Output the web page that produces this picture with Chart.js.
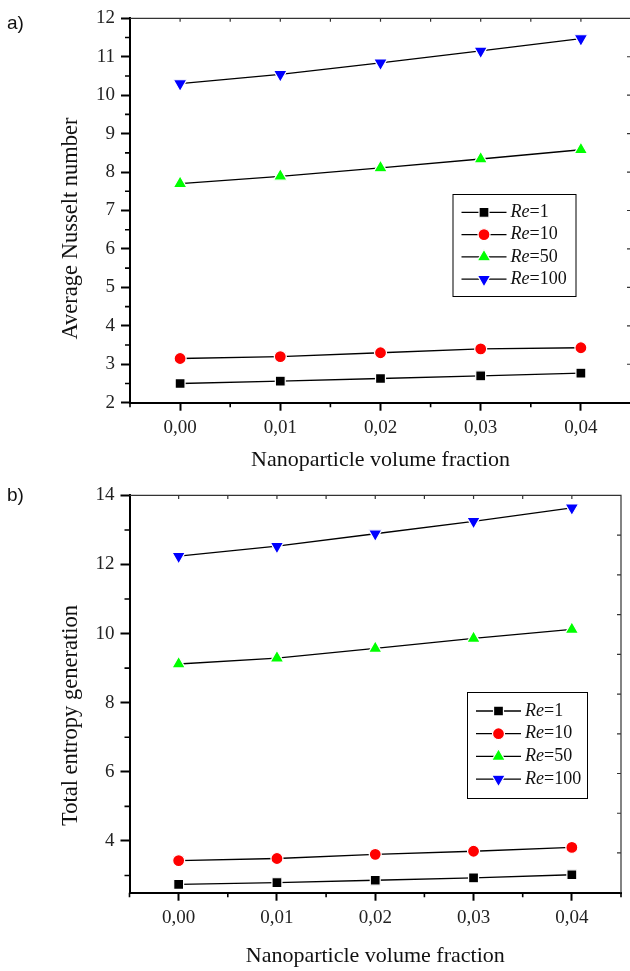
<!DOCTYPE html>
<html>
<head>
<meta charset="utf-8">
<title>Nusselt number and entropy generation vs volume fraction</title>
<script src="https://cdn.jsdelivr.net/npm/chart.js@4.4.1/dist/chart.umd.min.js"></script>
<style>
  html, body { margin: 0; padding: 0; background: #fff; overflow: hidden; width: 630px; height: 971px; }
  .panel { position: absolute; left: 0; }
</style>
</head>
<body>
<div class="panel" style="top:0"><canvas id="nusseltChart" width="640" height="478"></canvas></div>
<div class="panel" style="top:478px"><canvas id="entropyChart" width="630" height="493"></canvas></div>
<script>
// ---------------- Data ----------------
const fractions = [0, 0.01, 0.02, 0.03, 0.04];
const reynolds = ['1', '10', '50', '100'];

const nusseltRe1 = [2.50, 2.56, 2.63, 2.70, 2.77];
const nusseltRe10 = [3.15, 3.20, 3.30, 3.40, 3.43];
const nusseltRe50 = [7.70, 7.89, 8.11, 8.34, 8.58];
const nusseltRe100 = [10.30, 10.54, 10.84, 11.15, 11.47];

const entropyRe1 = [2.74, 2.79, 2.86, 2.93, 3.02];
const entropyRe10 = [3.43, 3.49, 3.61, 3.70, 3.81];
const entropyRe50 = [9.12, 9.29, 9.57, 9.86, 10.12];
const entropyRe100 = [12.24, 12.53, 12.89, 13.25, 13.64];

const nusseltTicks = [2, 3, 4, 5, 6, 7, 8, 9, 10, 11, 12];
const entropyTicks = [4, 6, 8, 10, 12, 14];

// ---------------- Styles ----------------
const SERIF = '"Liberation Serif", "Times New Roman", serif';
Chart.defaults.font.family = SERIF;
Chart.defaults.color = '#222';

const seriesStyle = [
    { pointStyle: 'rect', color: '#000000', radius: 7, rotation: 0 },
    { pointStyle: 'circle', color: '#ff0000', radius: 6, rotation: 0 },
    { pointStyle: 'triangle', color: '#00ff00', radius: 7.8, rotation: 0 },
    { pointStyle: 'triangle', color: '#0000ff', radius: 7.8, rotation: 180 }
];

function makeDatasets(series){
    return series.map((vals, i) => ({
        label: 'Re=' + reynolds[i],
        data: vals.map((v, j) => ({ x: fractions[j], y: v })),
        borderColor: '#000',
        borderWidth: 1.3,
        pointStyle: seriesStyle[i].pointStyle,
        pointRotation: seriesStyle[i].rotation,
        pointRadius: seriesStyle[i].radius,
        pointBackgroundColor: seriesStyle[i].color,
        pointBorderColor: '#fff',
        pointBorderWidth: 1.2,
        tension: 0,
        fill: false
    }));
}

// values from min to max on a fixed step
function steps(min, max, step){
    const out = [];
    for(let k = Math.ceil(min / step - 1e-9); k * step <= max + 1e-9; k++) out.push(+(k * step).toFixed(6));
    return out;
}

// ---------------- Frame plugin: minor ticks, top/right axes, legend, labels ----------------
const frame = {
    id: 'frame',
    afterDraw(chart, args, o){
        const { ctx, chartArea: a } = chart;
        const x = chart.scales.x, y = chart.scales.y;
        const isMajor = (scale, v) => scale.ticks.some(t => Math.abs(t.value - v) < 1e-9);
        ctx.save();

        // minor ticks, outward on bottom and left
        ctx.strokeStyle = '#000';
        ctx.lineWidth = 1.6;
        ctx.beginPath();
        steps(x.min, x.max, o.xMinor).forEach(v => {
            if(isMajor(x, v)) return;
            const px = x.getPixelForValue(v);
            ctx.moveTo(px, a.bottom); ctx.lineTo(px, a.bottom + 4.5);
        });
        steps(y.min, y.max, o.yMinor).forEach(v => {
            if(isMajor(y, v)) return;
            const py = y.getPixelForValue(v);
            ctx.moveTo(a.left, py); ctx.lineTo(a.left - 5, py);
        });
        ctx.stroke();

        // thin top and right axes with inward ticks
        ctx.strokeStyle = '#333';
        ctx.lineWidth = 1.2;
        ctx.beginPath();
        ctx.moveTo(a.left, a.top); ctx.lineTo(a.right, a.top); ctx.lineTo(a.right, a.bottom);
        steps(x.min, x.max, o.xMinor).forEach(v => {
            const px = x.getPixelForValue(v);
            if(px <= a.left + 1 || px >= a.right - 1) return;
            ctx.moveTo(px, a.top); ctx.lineTo(px, a.top + 3.5);
        });
        for(let i = 1; i < o.rightDivisions; i++){
            const py = a.top + i * (a.bottom - a.top) / o.rightDivisions;
            ctx.moveTo(a.right, py); ctx.lineTo(a.right - 4, py);
        }
        ctx.stroke();

        // y axis title
        ctx.save();
        ctx.translate(o.yTitle.x, o.yTitle.y);
        ctx.rotate(-Math.PI / 2);
        ctx.fillStyle = '#111';
        ctx.font = '22.5px ' + SERIF;
        ctx.textAlign = 'center';
        ctx.textBaseline = 'middle';
        ctx.fillText(o.yTitle.text, 0, 0);
        ctx.restore();

        // panel letter
        ctx.fillStyle = '#111';
        ctx.font = '19px "Liberation Sans", Arial, sans-serif';
        ctx.textAlign = 'left';
        ctx.textBaseline = 'alphabetic';
        ctx.fillText(o.panel.text, o.panel.x, o.panel.y);

        // legend
        const L = o.legend;
        ctx.fillStyle = '#fff';
        ctx.fillRect(L.x, L.y, L.w, L.h);
        ctx.strokeStyle = '#000';
        ctx.lineWidth = 1;
        ctx.strokeRect(L.x + 0.5, L.y + 0.5, L.w, L.h);
        chart.data.datasets.forEach((ds, i) => {
            const yy = L.y + L.row0 + i * L.step;
            ctx.strokeStyle = ds.borderColor;
            ctx.lineWidth = ds.borderWidth;
            ctx.beginPath(); ctx.moveTo(L.x + 9, yy); ctx.lineTo(L.x + 54, yy); ctx.stroke();
            ctx.fillStyle = ds.pointBackgroundColor;
            ctx.strokeStyle = ds.pointBorderColor;
            ctx.lineWidth = ds.pointBorderWidth;
            Chart.helpers.drawPoint(ctx, {
                pointStyle: ds.pointStyle, rotation: ds.pointRotation,
                radius: ds.pointRadius, borderWidth: ds.pointBorderWidth
            }, L.x + 31.5, yy);
            const tx = L.x + 58;
            ctx.fillStyle = '#111';
            ctx.textAlign = 'left';
            ctx.textBaseline = 'middle';
            ctx.font = 'italic 18px ' + SERIF;
            ctx.fillText('Re', tx, yy);
            const w = ctx.measureText('Re').width;
            ctx.font = '18px ' + SERIF;
            ctx.fillText('=' + reynolds[i], tx + w, yy);
        });
        ctx.restore();
    }
};

// ---------------- Chart options ----------------
function makeOptions(cfg){
    return {
        responsive: false,
        animation: false,
        layout: { padding: cfg.padding },
        plugins: { legend: { display: false }, tooltip: { enabled: false }, frame: cfg.frame },
        scales: {
            x: {
                type: 'linear', min: -0.005, max: 0.045,
                afterBuildTicks: s => { s.ticks = fractions.map(v => ({ value: v })); },
                afterFit: s => { s.height = cfg.xHeight; },
                ticks: { callback: v => v.toFixed(2).replace('.', ','), padding: 6, font: { size: 19 }, color: '#222', maxRotation: 0, autoSkip: false },
                grid: { display: true, drawOnChartArea: false, tickLength: 8, tickWidth: 2, tickColor: '#000' },
                border: { color: '#000', width: 2 },
                title: { display: true, text: 'Nanoparticle volume fraction', font: { size: 22 }, color: '#111', padding: { top: 0, bottom: cfg.titlePad } }
            },
            y: {
                type: 'linear', min: cfg.yMin, max: cfg.yMax,
                afterBuildTicks: s => { s.ticks = cfg.yTicks.map(v => ({ value: v })); },
                afterFit: s => { s.width = cfg.yWidth; },
                ticks: { padding: 6, font: { size: 19 }, color: '#222', autoSkip: false },
                grid: { display: true, drawOnChartArea: false, tickLength: 9, tickWidth: 2, tickColor: '#000' },
                border: { color: '#000', width: 2 }
            }
        }
    };
}

// ---------------- a) Average Nusselt number ----------------
new Chart(document.getElementById('nusseltChart'), {
    type: 'line',
    data: { datasets: makeDatasets([nusseltRe1, nusseltRe10, nusseltRe50, nusseltRe100]) },
    options: makeOptions({
        padding: { top: 18.3, right: 7.5, left: 0, bottom: 0 },
        xHeight: 75.3, titlePad: 4.8, yWidth: 130,
        yMin: 2, yMax: 12, yTicks: nusseltTicks,
        frame: {
            xMinor: 0.005, yMinor: 0.5, rightDivisions: 10,
            yTitle: { text: 'Average Nusselt number', x: 71, y: 228.5 },
            panel: { text: 'a)', x: 7, y: 29 },
            legend: { x: 452.5, y: 194, w: 123, h: 102, row0: 18.3, step: 22.3 }
        }
    }),
    plugins: [frame]
});

// ---------------- b) Total entropy generation ----------------
new Chart(document.getElementById('entropyChart'), {
    type: 'line',
    data: { datasets: makeDatasets([entropyRe1, entropyRe10, entropyRe50, entropyRe100]) },
    options: makeOptions({
        padding: { top: 16.3, right: 4, left: 0, bottom: 0 },
        xHeight: 78.3, titlePad: 1.8, yWidth: 129.5,
        yMin: 2.5, yMax: 14, yTicks: entropyTicks,
        frame: {
            xMinor: 0.005, yMinor: 1, rightDivisions: 10,
            yTitle: { text: 'Total entropy generation', x: 71, y: 237.5 },
            panel: { text: 'b)', x: 7, y: 23 },
            legend: { x: 467, y: 214, w: 120, h: 106, row0: 19, step: 22.7 }
        }
    }),
    plugins: [frame]
});
</script>
</body>
</html>
